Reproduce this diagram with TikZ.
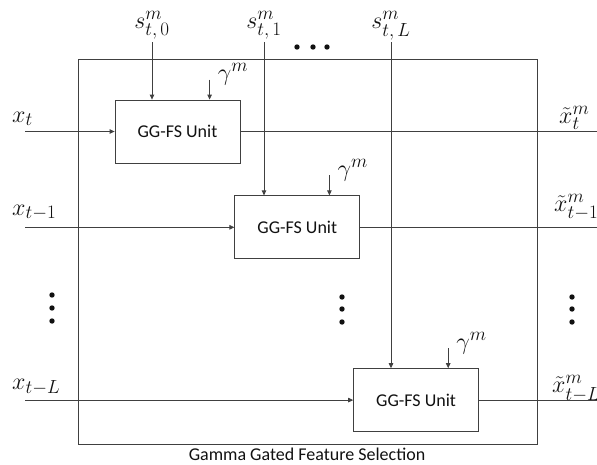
\RequirePackage{fix-cm}
\documentclass[tikz,border=0pt]{standalone}
\usepackage{amsmath,amssymb}
\usepackage{fontspec}
\setmainfont{Carlito}
\usepackage{xcolor}
\usepackage{tikz}
\usetikzlibrary{arrows.meta,positioning,calc}
\definecolor{gglines}{HTML}{404040}
\definecolor{ggtext}{HTML}{111111}
\DeclareMathSizes{24}{24}{19}{14}

\begin{document}
\begin{tikzpicture}[x=1pt, y=-1pt,
    unitbox/.style={rectangle, draw=gglines, line width=0.8pt, minimum width=125pt, minimum height=63pt, inner sep=0pt, font=\fontsize{18}{22}\selectfont\color{ggtext}},
    framebox/.style={rectangle, draw=gglines, line width=0.8pt, minimum width=459pt, minimum height=385pt, inner sep=0pt},
    lbl/.style={font=\fontsize{24}{28}\selectfont\color{ggtext}, inner sep=0pt},
    captext/.style={font=\fontsize{18}{22}\selectfont\color{ggtext}, inner sep=0pt},
    arr/.style={-{Triangle[length=5pt,width=4.5pt]}, line width=0.8pt, draw=gglines},
    wire/.style={line width=0.8pt, draw=gglines}
]
    \useasboundingbox (0,0) rectangle (597,464);

    % Outer block and its caption
    \node (frame) [framebox] at (307.5,251.5) {};
    \node (caption) [captext, anchor=base] at (307,460) {Gamma Gated Feature Selection};

    % GG-FS units
    \node (u1) [unitbox] at (177.5,131.5) {GG-FS Unit};
    \node (u2) [unitbox, below right=32pt and -6pt of u1] {GG-FS Unit};
    \node (u3) [unitbox, below right=109pt and -7pt of u2] {GG-FS Unit};

    % Left and right ends of the rows
    \coordinate (lft) at (25,0);
    \coordinate (rgt) at (597,0);
    \coordinate (in1) at (lft |- u1.west);
    \coordinate (in2) at (lft |- u2.west);
    \coordinate (in3) at (lft |- u3.west);
    \coordinate (out1) at (rgt |- u1.east);
    \coordinate (out2) at (rgt |- u2.east);
    \coordinate (out3) at (rgt |- u3.east);

    % Inputs x and outputs x-tilde
    \draw [arr] (in1) -- (u1.west);
    \draw [arr] (in2) -- (u2.west);
    \draw [arr] (in3) -- (u3.west);
    \draw [wire] (u1.east) -- (out1);
    \draw [wire] (u2.east) -- (out2);
    \draw [wire] (u3.east) -- (out3);

    \node (xt) [lbl, anchor=base west] at (12,122) {$x_t$};
    \node (xt1) [lbl, anchor=base west] at (12,215) {$x_{t-1}$};
    \node (xtL) [lbl, anchor=base west] at (12,389) {$x_{t-L}$};
    \node (yt) [lbl, anchor=base west] at (559,123) {$\tilde{x}^{m}_{t}$};
    \node (yt1) [lbl, anchor=base west] at (554,211) {$\tilde{x}^{m}_{t-1}$};
    \node (ytL) [lbl, anchor=base west] at (552,392) {$\tilde{x}^{m}_{t-L}$};

    % Selection inputs s
    \coordinate (s0) at (152,42);
    \coordinate (s1) at (264,42);
    \coordinate (sL) at (391,42);
    \draw [arr] (s0) -- (s0 |- u1.north);
    \draw [arr] (s1) -- (s1 |- u2.north);
    \draw [arr] (sL) -- (sL |- u3.north);
    \node (ls0) [lbl, anchor=base] at ([yshift=14pt]s0) {$s^{m}_{t,\,0}$};
    \node (ls1) [lbl, anchor=base] at ([yshift=14pt]s1) {$s^{m}_{t,\,1}$};
    \node (lsL) [lbl, anchor=base] at ([yshift=14pt]sL) {$s^{m}_{t,\,L}$};

    % Gamma inputs
    \coordinate (g1) at ([xshift=95pt,yshift=20pt]u1.north west);
    \coordinate (g2) at ([xshift=95pt,yshift=20pt]u2.north west);
    \coordinate (g3) at ([xshift=95pt,yshift=20pt]u3.north west);
    \draw [arr] (g1) -- (g1 |- u1.north);
    \draw [arr] (g2) -- (g2 |- u2.north);
    \draw [arr] (g3) -- (g3 |- u3.north);
    \node (lg1) [lbl, anchor=base west] at ([xshift=8pt,yshift=-1pt]g1) {$\gamma^{m}$};
    \node (lg2) [lbl, anchor=base west] at ([xshift=8pt,yshift=-1pt]g2) {$\gamma^{m}$};
    \node (lg3) [lbl, anchor=base west] at ([xshift=8pt,yshift=-1pt]g3) {$\gamma^{m}$};

    % Ellipsis dots
    \fill [ggtext] (297,47) circle (2.7) (313,47) circle (2.7) (327,47) circle (2.7);
    \fill [ggtext] (52,295) circle (2.7) (52,308) circle (2.7) (52,321) circle (2.7);
    \fill [ggtext] (342,297) circle (2.7) (342,309) circle (2.7) (342,322) circle (2.7);
    \fill [ggtext] (572,297) circle (2.7) (572,309) circle (2.7) (572,322) circle (2.7);
\end{tikzpicture}
\end{document}
